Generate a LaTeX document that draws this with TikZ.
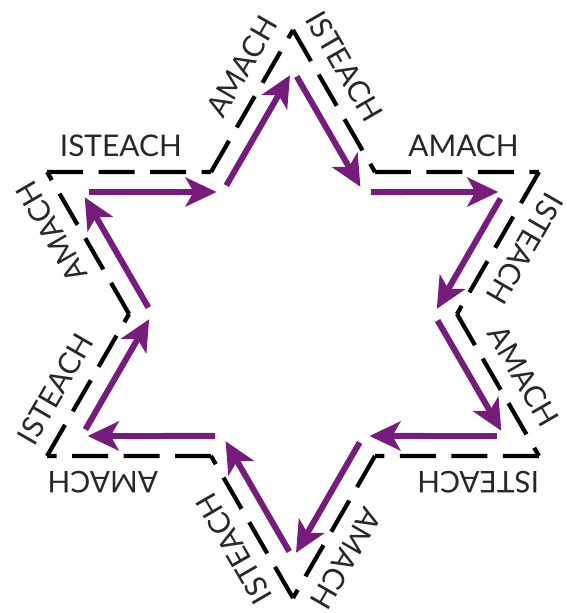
\documentclass[tikz,border=0pt]{standalone}
\usepackage{fontspec}
\setmainfont{Lato}
\usetikzlibrary{arrows.meta}
\definecolor{estrellamorado}{RGB}{117,28,125}
\definecolor{textogris}{RGB}{40,40,40}

\begin{document}
\begin{tikzpicture}[>={Stealth[length=0.62cm, width=0.58cm, inset=0.16cm]},
  contorno/.style={line width=2.4pt, dash pattern=on 0.72cm off 0.31cm},
  flujo/.style={->, estrellamorado, line width=3.4pt, shorten <=0.15cm, shorten >=0.12cm},
  rotulo/.style={font=\fontsize{17}{17}\selectfont, text=textogris, anchor=south,
                 inner xsep=0pt, inner ysep=0.3cm}]

  % --- Marco ---
  \useasboundingbox (0,0) rectangle (11.34,12.26);
  \coordinate (C) at (5.86,5.98);

  % --- Vertices de la estrella exterior ---
  \foreach \n/\a in {1/90,2/30,3/-30,4/-90,5/-150,6/150}
    \coordinate (t\n) at ([shift={(\a:5.68)}]C);
  \foreach \n/\a in {1/60,2/0,3/-60,4/-120,5/180,6/120}
    \coordinate (c\n) at ([shift={(\a:3.279)}]C);

  % --- Vertices de la estrella de flechas ---
  \foreach \n/\a in {1/90,2/30,3/-30,4/-90,5/-150,6/150}
    \coordinate (ft\n) at ([shift={(\a:4.88)}]C);
  \foreach \n/\a in {1/60,2/0,3/-60,4/-120,5/180,6/120}
    \coordinate (fc\n) at ([shift={(\a:2.817)}]C);

  % --- Contorno discontinuo ---
  \foreach \s/\e in {t1/c1,c1/t2,t2/c2,c2/t3,t3/c3,c3/t4,t4/c4,c4/t5,t5/c5,c5/t6,t6/c6,c6/t1}
    \draw[contorno] (\s) -- (\e);

  % --- Flechas en sentido horario ---
  \foreach \s/\e in {ft1/fc1,fc1/ft2,ft2/fc2,fc2/ft3,ft3/fc3,fc3/ft4,
                     ft4/fc4,fc4/ft5,ft5/fc5,fc5/ft6,ft6/fc6,fc6/ft1}
    \draw[flujo] (\s) -- (\e);

  % --- Rotulos sobre cada lado ---
  \foreach \s/\e/\p/\r/\txt in {t1/c1/0.35/-60/ISTEACH, c1/t2/0.54/0/AMACH,
      t2/c2/0.45/-120/ISTEACH, c2/t3/0.53/-60/AMACH,
      t3/c3/0.37/180/ISTEACH, c3/t4/0.63/-120/AMACH,
      t4/c4/0.44/120/ISTEACH, c4/t5/0.66/180/AMACH,
      t5/c5/0.38/60/ISTEACH, c5/t6/0.67/120/AMACH,
      t6/c6/0.45/0/ISTEACH, c6/t1/0.65/60/AMACH}
    \path (\s) -- (\e) node[rotulo, pos=\p, rotate=\r] (r\s\e) {\txt};

\end{tikzpicture}
\end{document}
